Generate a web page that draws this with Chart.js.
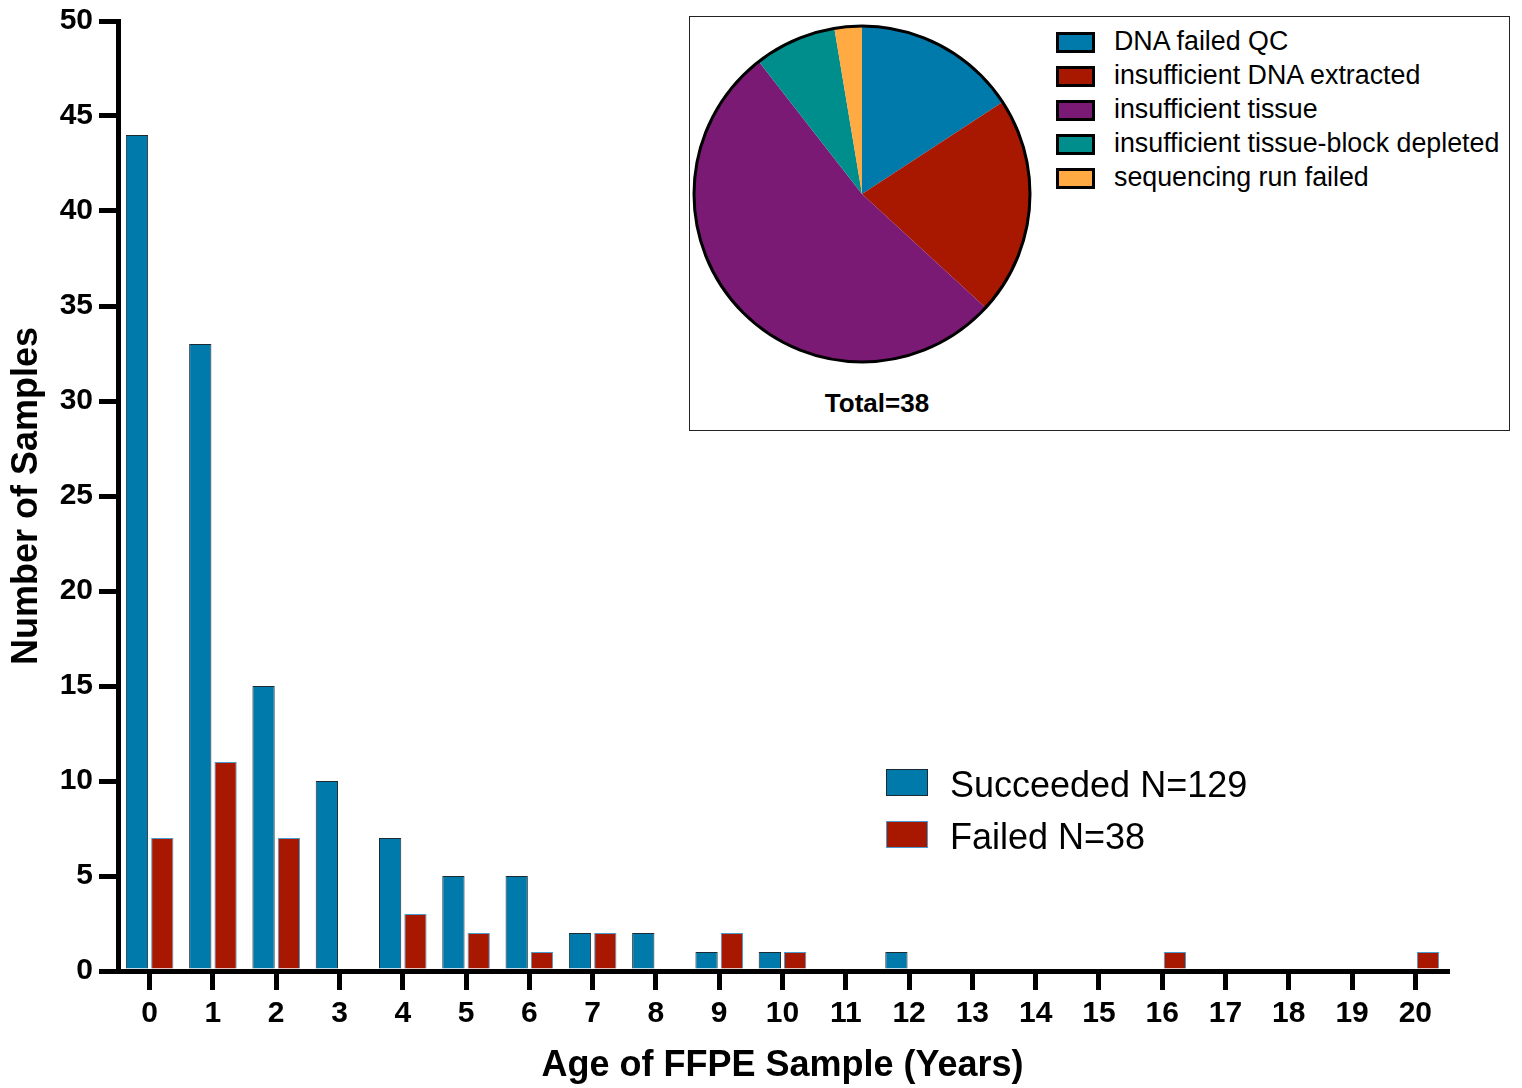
<!DOCTYPE html>
<html>
<head>
<meta charset="utf-8">
<script src="https://cdn.jsdelivr.net/npm/chart.js@4.4.0/dist/chart.umd.min.js"></script>
<style>
    body { margin: 0; background: #fff; font-family: "Liberation Sans", Arial, sans-serif; }
    #main { position: absolute; left: 0; top: 0; }
    #inset { position: absolute; left: 689px; top: 16px; width: 819px; height: 413px; border: 1px solid #222; background: #fff; }
    #pie { position: absolute; left: 688px; top: 20px; }
    .lg-box { position: absolute; box-sizing: border-box; }
    .lg-text { position: absolute; white-space: nowrap; color: #000; }
    #total { position: absolute; left: 777px; top: 387px; width: 200px; text-align: center; font-weight: bold; font-size: 26px; line-height: 32px; }
</style>
</head>
<body>
<canvas id="main" width="1522" height="1088"></canvas>
<div id="inset"></div>
<canvas id="pie" width="348" height="348"></canvas>
<div id="total">Total=38</div>
<div id="pieLegend"></div>
<div id="barLegend"></div>

<script>
    // bar data: samples per age in years
    const ages = ['0', '1', '2', '3', '4', '5', '6', '7', '8', '9', '10',
        '11', '12', '13', '14', '15', '16', '17', '18', '19', '20'];
    const succeeded = [44, 33, 15, 10, 7, 5, 5, 2, 2, 1, 1, 0, 1, 0, 0, 0, 0, 0, 0, 0, 0];
    const failed = [7, 11, 7, 0, 3, 2, 1, 2, 0, 2, 1, 0, 0, 0, 0, 0, 1, 0, 0, 0, 1];
    const barLabels = ['Succeeded N=129', 'Failed N=38'];

    // pie data: reasons for failure
    const failReasons = ['DNA failed QC', 'insufficient DNA extracted', 'insufficient tissue',
        'insufficient tissue-block depleted', 'sequencing run failed'];
    const failCounts = [6, 8, 20, 3, 1];

    const blue = '#0079ab';
    const red = '#a81700';
    const pieColors = [blue, red, '#7a1a74', '#008e8c', '#ffaa42'];
    const fontFamily = '"Liberation Sans", Arial, sans-serif';

    new Chart(document.getElementById('main'), {
        type: 'bar',
        data: {
            labels: ages,
            datasets: [{
                label: barLabels[0],
                data: succeeded,
                backgroundColor: blue,
                borderColor: '#1b2a33',
                borderWidth: 1
            }, {
                label: barLabels[1],
                data: failed,
                backgroundColor: red,
                borderColor: '#4a9ccc',
                borderWidth: 1
            }]
        },
        options: {
            responsive: false,
            animation: false,
            devicePixelRatio: 1,
            categoryPercentage: 0.8,
            barPercentage: 0.88,
            layout: { padding: { top: 19, right: 75, left: 0, bottom: 0 } },
            plugins: { legend: { display: false }, tooltip: { enabled: false } },
            scales: {
                x: {
                    grid: { drawOnChartArea: false, offset: false, tickLength: 19, lineWidth: 5, color: '#000' },
                    border: { display: true, width: 5, color: '#000' },
                    ticks: { color: '#000', font: { family: fontFamily, size: 30, weight: 'bold' }, padding: 6, maxRotation: 0, autoSkip: false },
                    title: {
                        display: true,
                        text: 'Age of FFPE Sample (Years)',
                        color: '#000',
                        font: { family: fontFamily, size: 36, weight: 'bold' },
                        padding: { top: 0, bottom: 0 }
                    },
                    afterFit: function(s) { s.height = 117; }
                },
                y: {
                    min: 0,
                    max: 50,
                    grid: { drawOnChartArea: false, tickLength: 19, lineWidth: 5, color: '#000' },
                    border: { display: true, width: 5, color: '#000' },
                    ticks: { stepSize: 5, color: '#000', font: { family: fontFamily, size: 30, weight: 'bold', lineHeight: 1 }, padding: 6 },
                    title: {
                        display: true,
                        text: 'Number of Samples',
                        color: '#000',
                        font: { family: fontFamily, size: 36, weight: 'bold' },
                        padding: { top: 5, bottom: 0 }
                    },
                    afterFit: function(s) { s.width = 118; }
                }
            }
        }
    });

    // black outline round the whole pie
    const outerRing = {
        id: 'outerRing',
        afterDatasetsDraw: function(chart) {
            const arc = chart.getDatasetMeta(0).data[0];
            if (!arc) return;
            const ctx = chart.ctx;
            ctx.save();
            ctx.beginPath();
            ctx.arc(arc.x, arc.y, arc.outerRadius, 0, Math.PI * 2);
            ctx.lineWidth = 3;
            ctx.strokeStyle = '#000';
            ctx.stroke();
            ctx.restore();
        }
    };

    new Chart(document.getElementById('pie'), {
        type: 'pie',
        data: {
            labels: failReasons,
            datasets: [{
                data: failCounts,
                backgroundColor: pieColors,
                borderWidth: 0
            }]
        },
        options: {
            responsive: false,
            animation: false,
            devicePixelRatio: 1,
            layout: { padding: 6 },
            plugins: { legend: { display: false }, tooltip: { enabled: false } }
        },
        plugins: [outerRing]
    });

    // legends drawn as html so they can sit where the figure has them
    let pieLegend = document.getElementById('pieLegend');
    failReasons.forEach(function(name, i) {
        let box = document.createElement('div');
        box.className = 'lg-box';
        box.style.cssText = 'left:1056px;top:' + (32 + 34 * i) + 'px;width:39px;height:21px;border:3px solid #000;background:' + pieColors[i];
        pieLegend.appendChild(box);
        let txt = document.createElement('div');
        txt.className = 'lg-text';
        txt.style.cssText = 'left:1114px;top:' + (26 + 34 * i) + 'px;font-size:26.8px;line-height:30px';
        txt.textContent = name;
        pieLegend.appendChild(txt);
    });

    let barLegend = document.getElementById('barLegend');
    const barColors = [[blue, '#1b2a33'], [red, '#4a9ccc']];
    barLabels.forEach(function(name, i) {
        let box = document.createElement('div');
        box.className = 'lg-box';
        box.style.cssText = 'left:886px;top:' + (769 + 52 * i) + 'px;width:42px;height:27px;border:1px solid ' + barColors[i][1] + ';background:' + barColors[i][0];
        barLegend.appendChild(box);
        let txt = document.createElement('div');
        txt.className = 'lg-text';
        txt.style.cssText = 'left:950px;top:' + (764 + 52 * i) + 'px;font-size:36px;line-height:42px';
        txt.textContent = name;
        barLegend.appendChild(txt);
    });
</script>
</body>
</html>
